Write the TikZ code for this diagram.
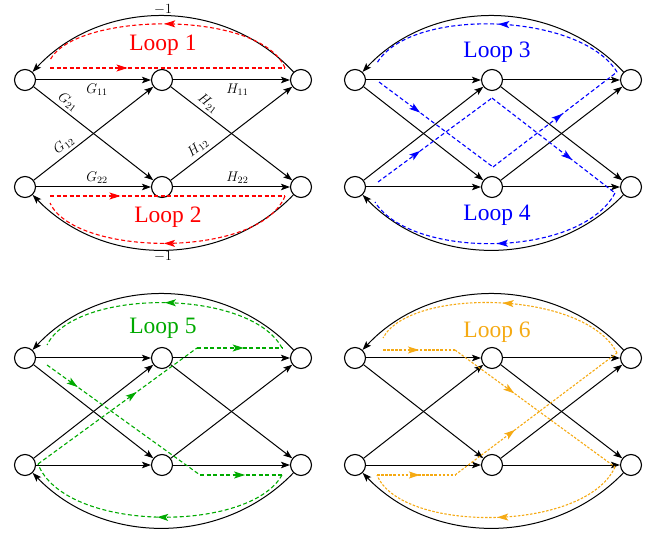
\RequirePackage{fix-cm}
\documentclass[tikz,border=0pt]{standalone}
\usepackage{fontspec}
\newfontfamily\loopfont{Liberation Serif}
\usetikzlibrary{arrows.meta,decorations.markings}
\definecolor{loopred}{RGB}{255,0,0}
\definecolor{loopblue}{RGB}{0,0,255}
\definecolor{loopgreen}{RGB}{0,170,0}
\definecolor{looporange}{RGB}{245,170,20}
\tikzset{
 vtx/.style={circle,draw,line width=1.1pt,minimum size=21pt,inner sep=0pt,fill=white},
 edge/.style={line width=1pt,-{Stealth[length=9pt,width=6.5pt,inset=2pt]}},
 lp/.style={line width=1.1pt,dash pattern=on 4pt off 2.5pt},
 lpfine/.style={line width=1.1pt,dash pattern=on 2.5pt off 1.6pt},
 marr/.style={postaction={decorate},decoration={markings,mark=at position #1 with {\arrow{Stealth[length=11pt,width=7pt,inset=2.5pt]}}}},
 lbl/.style={font=\fontsize{14}{16}\selectfont},
 looptxt/.style={font=\loopfont\fontsize{23.5}{27}\selectfont},
}
\newcommand{\basegraph}[1]{%
 \node[vtx] (#1L1) at (0,107) {};
 \node[vtx] (#1M1) at (137,107) {};
 \node[vtx] (#1R1) at (276,107) {};
 \node[vtx] (#1L2) at (0,0) {};
 \node[vtx] (#1M2) at (137,0) {};
 \node[vtx] (#1R2) at (276,0) {};
 \draw[edge] (#1L1) -- (#1M1);
 \draw[edge] (#1M1) -- (#1R1);
 \draw[edge] (#1L2) -- (#1M2);
 \draw[edge] (#1M2) -- (#1R2);
 \draw[edge] (#1L1) -- (#1M2);
 \draw[edge] (#1L2) -- (#1M1);
 \draw[edge] (#1M1) -- (#1R2);
 \draw[edge] (#1M2) -- (#1R1);
 \draw[edge] (#1R1) to[bend right=47] (#1L1);
 \draw[edge] (#1R2) to[bend left=46] (#1L2);
}
\begin{document}
\begin{tikzpicture}[x=1pt,y=1pt]
\useasboundingbox (0,0) rectangle (658,533);
% ---------- panel 1 ----------
\begin{scope}[shift={(25,346)}]
 \basegraph{a}
 \path (aL1) -- node[lbl,below,pos=0.53] {$G_{11}$} (aM1);
 \path (aM1) -- node[lbl,below,pos=0.55] {$H_{11}$} (aR1);
 \path (aL2) -- node[lbl,above,pos=0.53] {$G_{22}$} (aM2);
 \path (aM2) -- node[lbl,above,pos=0.55] {$H_{22}$} (aR2);
 \path (aL1) -- node[lbl,above,sloped,pos=0.24] {$G_{21}$} (aM2);
 \path (aL2) -- node[lbl,above,sloped,pos=0.3] {$G_{12}$} (aM1);
 \path (aM1) -- node[lbl,above,sloped,pos=0.26] {$H_{21}$} (aR2);
 \path (aM2) -- node[lbl,above,sloped,pos=0.27] {$H_{12}$} (aR1);
 \path (aR1) to[bend right=47] node[lbl,above,inner sep=1pt] {$-1$} (aL1);
 \path (aR2) to[bend left=46] node[lbl,below,inner sep=1pt] {$-1$} (aL2);
 \coordinate (r1a) at (25,119);
 \coordinate (r1b) at (260,119);
 \coordinate (r1c) at (25,127);
 \draw[lp,loopred,marr=0.33] (r1a) -- (r1b);
 \draw[lp,loopred,marr=0.52] (r1b) .. controls (235,178) and (50,175) .. (r1c);
 \coordinate (r2a) at (25,-9);
 \coordinate (r2b) at (260,-9);
 \coordinate (r2c) at (25,-16);
 \draw[lp,loopred,marr=0.3] (r2a) -- (r2b);
 \draw[lp,loopred,marr=0.52] (r2b) .. controls (235,-72) and (50,-70) .. (r2c);
 \node[looptxt,text=loopred] (t1) at (138,142) {Loop 1};
 \node[looptxt,text=loopred] (t2) at (143,-30) {Loop 2};
\end{scope}
% ---------- panel 2 ----------
\begin{scope}[shift={(355,346)}]
 \basegraph{b}
 \coordinate (b3a) at (24,105);
 \coordinate (b3b) at (138,20);
 \coordinate (b3c) at (262,115);
 \coordinate (b3d) at (22,124);
 \draw[lp,loopblue,marr=0.36] (b3a) -- (b3b);
 \draw[lp,loopblue,marr=0.56] (b3b) -- (b3c);
 \draw[lp,loopblue,marr=0.5] (b3c) .. controls (225,175) and (55,180) .. (b3d);
 \coordinate (b4a) at (23,5);
 \coordinate (b4b) at (137,89);
 \coordinate (b4c) at (260,-6);
 \coordinate (b4d) at (20,-15);
 \draw[lp,loopblue,marr=0.37] (b4a) -- (b4b);
 \draw[lp,loopblue,marr=0.65] (b4b) -- (b4c);
 \draw[lp,loopblue,marr=0.5] (b4c) .. controls (225,-72) and (55,-72) .. (b4d);
 \node[looptxt,text=loopblue] (t3) at (142,135) {Loop 3};
 \node[looptxt,text=loopblue] (t4) at (142,-28) {Loop 4};
\end{scope}
% ---------- panel 3 ----------
\begin{scope}[shift={(25,68)}]
 \basegraph{c}
 \coordinate (g1) at (22,100);
 \coordinate (g2) at (175,-10);
 \coordinate (g3) at (257,-10);
 \coordinate (g4) at (13,1);
 \coordinate (g5) at (172,117);
 \coordinate (g6) at (257,117);
 \coordinate (g7) at (22,120);
 \draw[lp,loopgreen,marr=0.2] (g1) -- (g2);
 \draw[lp,loopgreen,marr=0.55] (g2) -- (g3);
 \draw[lp,loopgreen,marr=0.5] (g3) .. controls (225,-68) and (40,-68) .. (g4);
 \draw[lp,loopgreen,marr=0.62] (g4) -- (g5);
 \draw[lp,loopgreen,marr=0.55] (g5) -- (g6);
 \draw[lp,loopgreen,marr=0.5] (g6) .. controls (225,177) and (50,177) .. (g7);
 \node[looptxt,text=loopgreen] (t5) at (138,137) {Loop 5};
\end{scope}
% ---------- panel 4 ----------
\begin{scope}[shift={(355,68)}]
 \basegraph{d}
 \coordinate (o1) at (28,115);
 \coordinate (o2) at (100,115);
 \coordinate (o3) at (260,-2);
 \coordinate (o4) at (22,-10);
 \coordinate (o5) at (100,-10);
 \coordinate (o6) at (262,112);
 \coordinate (o7) at (28,127);
 \draw[lpfine,looporange,marr=0.5] (o1) -- (o2);
 \draw[lpfine,looporange,marr=0.37] (o2) -- (o3);
 \draw[lpfine,looporange,marr=0.5] (o3) .. controls (230,-68) and (45,-68) .. (o4);
 \draw[lpfine,looporange,marr=0.55] (o4) -- (o5);
 \draw[lpfine,looporange,marr=0.37] (o5) -- (o6);
 \draw[lpfine,looporange,marr=0.5] (o6) .. controls (230,175) and (55,178) .. (o7);
 \node[looptxt,text=looporange] (t6) at (142,133) {Loop 6};
\end{scope}
\end{tikzpicture}
\end{document}
